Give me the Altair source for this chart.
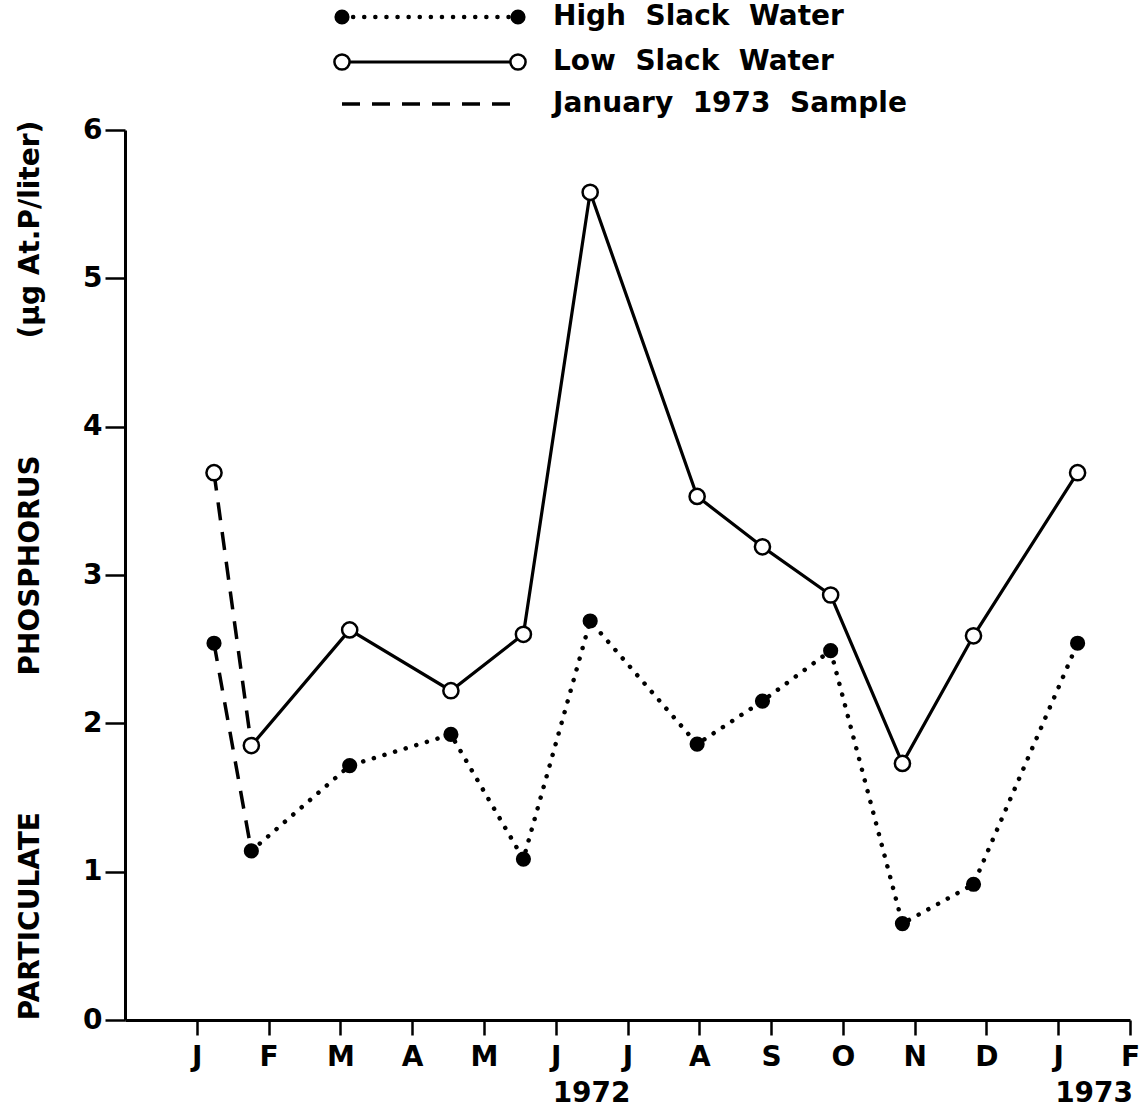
import altair as alt
import pandas as pd

# ---- data ----
month_labels = ['J', 'F', 'M', 'A', 'M', 'J', 'J', 'A', 'S', 'O', 'N', 'D', 'J', 'F']
month_ticks = list(range(1, 15))          # month starts, counted from Dec 1971
year_labels = ['1972', '1973']
year_pos = [6.5, 13.5]

sample_month = [1.76, 3.13, 4.54, 5.55, 6.48, 7.97, 8.88, 9.83, 10.83, 11.82, 13.27]
high_slack = [1.14, 1.715, 1.925, 1.085, 2.69, 1.86, 2.15, 2.49, 0.65, 0.915, 2.54]
low_slack = [1.85, 2.63, 2.22, 2.60, 5.58, 3.53, 3.19, 2.865, 1.73, 2.59, 3.69]

jan_sample_month = 1.24
jan_sample_high = 2.54
jan_sample_low = 3.69

legend_labels = ['High\u00a0\u00a0Slack\u00a0\u00a0Water', 'Low\u00a0\u00a0Slack\u00a0\u00a0Water',
                 'January\u00a0\u00a01973\u00a0\u00a0Sample']

FONT = 'DejaVu Sans'
NB = '\u00a0'
y_title = 'PARTICULATE' + NB * 14 + 'PHOSPHORUS' + NB * 12 + '(\u03bcg At.P/liter)'

# ---- tables ----
high_df = pd.DataFrame({'month': sample_month, 'value': high_slack})
low_df = pd.DataFrame({'month': sample_month, 'value': low_slack})
jan_lines = pd.DataFrame({
    'month': [jan_sample_month, sample_month[0], jan_sample_month, sample_month[0]],
    'value': [jan_sample_high, high_slack[0], jan_sample_low, low_slack[0]],
    'grp': ['h', 'h', 'l', 'l'],
})
jan_high_pt = pd.DataFrame({'month': [jan_sample_month], 'value': [jan_sample_high]})
jan_low_pt = pd.DataFrame({'month': [jan_sample_month], 'value': [jan_sample_low]})
years_df = pd.DataFrame({'month': year_pos, 'label': year_labels})

label_expr = '[' + ','.join("'%s'" % m for m in month_labels) + '][datum.value - 1]'

x_enc = alt.X('month:Q',
              scale=alt.Scale(domain=[0, 14], nice=False, zero=False),
              axis=alt.Axis(values=month_ticks, labelExpr=label_expr, title=None, grid=False,
                            domainColor='black', domainWidth=3, tickColor='black', tickWidth=2.5,
                            tickSize=15, labelPadding=8, labelFont=FONT, labelFontSize=28,
                            labelFontWeight='bold', labelColor='black', labelFlush=False))
y_enc = alt.Y('value:Q',
              scale=alt.Scale(domain=[0, 6], nice=False),
              axis=alt.Axis(values=list(range(0, 7)), grid=False, title=y_title,
                            domainColor='black', domainWidth=3, tickColor='black', tickWidth=2.5,
                            tickSize=20, labelPadding=3, labelFont=FONT, labelFontSize=28,
                            labelFontWeight='bold', labelColor='black',
                            titleFont=FONT, titleFontSize=28, titleFontWeight='bold',
                            titleColor='black', titleAngle=270, titleAlign='center',
                            titleBaseline='middle', titleX=-95, titleY=440))

low_line = alt.Chart(low_df).mark_line(color='black', strokeWidth=3.2).encode(x=x_enc, y=y_enc)
high_line = alt.Chart(high_df).mark_line(color='black', strokeWidth=4.5, strokeDash=[0.1, 11],
                                         strokeCap='round').encode(x=x_enc, y=y_enc)
jan_line = alt.Chart(jan_lines).mark_line(color='black', strokeWidth=3.5, strokeDash=[18, 12]).encode(
    x=x_enc, y=y_enc, detail='grp:N')
low_pts = alt.Chart(low_df).mark_point(shape='circle', filled=True, fill='white', stroke='black',
                                       strokeWidth=2.5, size=230, opacity=1).encode(x=x_enc, y=y_enc)
high_pts = alt.Chart(high_df).mark_point(shape='circle', filled=True, color='black', size=230,
                                         opacity=1).encode(x=x_enc, y=y_enc)
jan_low = alt.Chart(jan_low_pt).mark_point(shape='circle', filled=True, fill='white', stroke='black',
                                           strokeWidth=2.5, size=230, opacity=1).encode(x=x_enc, y=y_enc)
jan_high = alt.Chart(jan_high_pt).mark_point(shape='circle', filled=True, color='black', size=230,
                                             opacity=1).encode(x=x_enc, y=y_enc)
years = alt.Chart(years_df).mark_text(font=FONT, fontSize=28, fontWeight='bold', color='black',
                                      baseline='middle', align='center').encode(
    x=x_enc, y=alt.value(964), text='label:N')

# ---- legend (drawn above the plot) ----
LX1, LX2, LT = 217, 393, 428
ROWS = [-113, -68, -26]


def leg_text(i):
    return alt.Chart(pd.DataFrame({'label': [legend_labels[i]]})).mark_text(
        font=FONT, fontSize=28, fontWeight='bold', color='black', align='left',
        baseline='middle').encode(x=alt.value(LT), y=alt.value(ROWS[i]), text='label:N')


def leg_rule(i, **kw):
    return alt.Chart(pd.DataFrame({'label': [legend_labels[i]]})).mark_rule(color='black', **kw).encode(
        x=alt.value(LX1), x2=alt.value(LX2), y=alt.value(ROWS[i]))


def leg_pt(i, xx, open_):
    d = pd.DataFrame({'label': [legend_labels[i]]})
    if open_:
        m = alt.Chart(d).mark_point(shape='circle', filled=True, fill='white', stroke='black',
                                    strokeWidth=2.5, size=230, opacity=1)
    else:
        m = alt.Chart(d).mark_point(shape='circle', filled=True, color='black', size=230, opacity=1)
    return m.encode(x=alt.value(xx), y=alt.value(ROWS[i]))


legend_layers = [
    leg_rule(0, strokeWidth=4.5, strokeDash=[0.1, 11], strokeCap='round'),
    leg_pt(0, LX1, False), leg_pt(0, LX2, False), leg_text(0),
    leg_rule(1, strokeWidth=3), leg_pt(1, LX1, True), leg_pt(1, LX2, True), leg_text(1),
    leg_rule(2, strokeWidth=3.5, strokeDash=[18, 12]), leg_text(2),
]

chart = alt.layer(
    low_line, high_line, jan_line, low_pts, high_pts, jan_low, jan_high, years, *legend_layers
).properties(
    width=1005, height=890,
    padding={'left': 125, 'top': 130, 'right': 14, 'bottom': 90},
    autosize=alt.AutoSizeParams(type='none'),
    background='white',
).configure_view(stroke=None)

chart.save('out.html', embed_options={'renderer': 'svg', 'actions': False})
